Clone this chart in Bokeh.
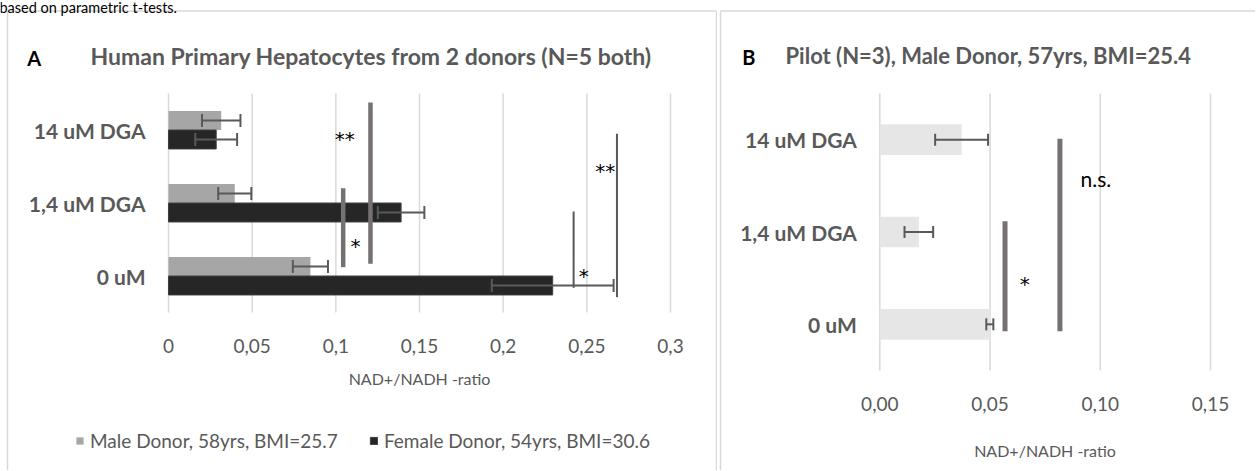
import numpy as np
from bokeh.plotting import figure
from bokeh.models import (ColumnDataSource, Whisker, FixedTicker, CustomJSTickFormatter,
                          Legend, LegendItem, Label, Range1d, TeeHead)
from bokeh.layouts import row
from bokeh.embed import file_html
from bokeh.resources import INLINE
from bokeh.core.properties import value

# ---------------- data ----------------
categories = ["0 uM", "1,4 uM DGA", "14 uM DGA"]
male_vals = [0.0848, 0.0396, 0.0315]
male_err = [0.0105, 0.0099, 0.0115]
female_vals = [0.2296, 0.1390, 0.0285]
female_err = [0.0364, 0.0139, 0.0125]
pilot_vals = [0.0499, 0.0177, 0.0371]
pilot_err = [0.0016, 0.0065, 0.0120]
ticks_a = [0, 0.05, 0.1, 0.15, 0.2, 0.25, 0.3]
ticks_b = [0, 0.05, 0.1, 0.15]
series_names = ["Male Donor, 58yrs, BMI=25.7", "Female Donor, 54yrs, BMI=30.6"]
axis_title = "NAD+/NADH -ratio"
title_a = "Human Primary Hepatocytes from 2 donors (N=5 both)"
title_b = "Pilot (N=3), Male Donor, 57yrs, BMI=25.4"
note_text = "based on parametric t-tests."

# significance markers: value-axis position and category-axis extent
sig_a_thick_x = [0.1044, 0.1207]
sig_a_thick_from = [0.621, 0.667]
sig_a_thick_to = [1.703, 2.877]
sig_a_thin_x = [0.2421, 0.2680]
sig_a_thin_from = [0.338, 0.210]
sig_a_thin_to = [1.384, 2.448]
sig_a_marks = ["*", "**", "*", "**"]
sig_a_mark_x = [0.1117, 0.1053, 0.2481, 0.2610]
sig_a_mark_y = [0.963, 2.425, 0.552, 1.990]
sig_b_x = [0.0568, 0.0817]
sig_b_from = [0.425, 0.425]
sig_b_to = [1.617, 2.509]
sig_b_star = ["*"]
sig_b_star_x = [0.0658]
sig_b_star_y = [0.982]
sig_b_ns = ["n.s."]
sig_b_ns_x = [0.0980]
sig_b_ns_y = [2.076]

# ---------------- layout constants (pixels) ----------------
FONT = "Lato"
STAR_FONT = "DejaVu Sans"
GRAY = "#595959"
GRID = "#d9d9d9"
H = 470
WA, WB = 717, 538
B_LEFT = WA                       # window x where panel B canvas starts
A_X0, A_XMAX_PX, A_Y0, A_YTOP = 168, 670, 312, 93
B_X0, B_XMAX_PX, B_Y0, B_YTOP = 879.3, 1210, 370, 93

pos = np.arange(len(categories)) + 0.5
overrides = {float(p): c for p, c in zip(pos, categories)}


class Panel:
    def __init__(self, left, width, x0, xmax_px, xmax, y0, ytop):
        self.left = left
        self.kx = (xmax_px - x0) / xmax
        self.x0 = x0 - left
        self.ky = (y0 - ytop) / 3.0
        self.y0 = y0
        self.width = width

    def x(self, wx):
        return (wx - self.left - self.x0) / self.kx

    def y(self, wy):
        return (self.y0 - wy) / self.ky

    def figure(self):
        p = figure(width=self.width, height=H,
                   x_range=Range1d(self.x(self.left), self.x(self.left + self.width)),
                   y_range=Range1d(self.y(H), self.y(0)),
                   output_backend="svg", toolbar_location=None, tools="",
                   min_border=0, min_border_left=0, min_border_right=0,
                   min_border_top=0, min_border_bottom=0)
        p.outline_line_color = None
        p.background_fill_color = "white"
        p.border_fill_color = "white"
        p.grid.visible = False
        return p


def style_axes(p, ticks, fmt_code, label_standoff):
    for ax in (p.xaxis[0], p.yaxis[0]):
        ax.fixed_location = 0
        ax.axis_line_color = None
        ax.major_tick_line_color = None
        ax.minor_tick_line_color = None
        ax.major_tick_out = 0
        ax.major_tick_in = 0
        ax.minor_tick_out = 0
        ax.minor_tick_in = 0
        ax.major_label_text_font = FONT
        ax.major_label_text_color = GRAY
    p.yaxis.bounds = (0, 3)
    p.yaxis.ticker = FixedTicker(ticks=list(pos))
    p.yaxis.major_label_overrides = overrides
    p.yaxis.major_label_text_font_size = "21px"
    p.yaxis.major_label_text_font_style = "bold"
    p.yaxis.major_label_standoff = 23
    p.xaxis.bounds = (ticks[0], ticks[-1])
    p.xaxis.ticker = FixedTicker(ticks=ticks)
    p.xaxis.formatter = CustomJSTickFormatter(code=fmt_code)
    p.xaxis.major_label_text_font_size = "19px"
    p.xaxis.major_label_standoff = 26
    p.xaxis.axis_label = axis_title
    p.xaxis.axis_label_text_font = FONT
    p.xaxis.axis_label_text_font_style = "normal"
    p.xaxis.axis_label_text_font_size = "16px"
    p.xaxis.axis_label_text_color = GRAY
    p.xaxis.axis_label_standoff = label_standoff
    # vertical gridlines limited to the plot area
    p.segment(x0=ticks, y0=[0] * len(ticks), x1=ticks, y1=[3] * len(ticks),
              line_color=GRID, line_width=1.5)


def add_whisker(p, ys, vals, errs, head):
    v = np.array(vals)
    e = np.array(errs)
    src = ColumnDataSource(dict(base=list(ys), lower=list(v - e), upper=list(v + e)))
    w = Whisker(source=src, base="base", lower="lower", upper="upper", dimension="width",
                line_color=GRAY, line_width=2, level="annotation",
                upper_head=TeeHead(size=head, line_color=GRAY, line_width=2),
                lower_head=TeeHead(size=head, line_color=GRAY, line_width=2))
    p.add_layout(w)


def add_text(p, text, x, y, size, color, bold=True, font=FONT):
    p.add_layout(Label(x=x, y=y, text=text, text_font=font, text_font_size=size,
                       text_color=color, text_font_style="bold" if bold else "normal",
                       text_baseline="alphabetic", text_align="left"))


def add_border(p, pan, x_left, x_right, y_top):
    xs0 = [pan.x(x_left), pan.x(x_left)]
    ys0 = [pan.y(y_top), pan.y(y_top)]
    xs1 = [pan.x(x_left), pan.x(x_right)]
    ys1 = [pan.y(H + 5), pan.y(y_top)]
    if x_right < pan.left + pan.width:
        xs0.append(pan.x(x_right)); ys0.append(pan.y(y_top))
        xs1.append(pan.x(x_right)); ys1.append(pan.y(H + 5))
    p.segment(x0=xs0, y0=ys0, x1=xs1, y1=ys1, line_color=GRID, line_width=1.5)


# ---------------- panel A ----------------
PA = Panel(0, WA, A_X0, A_XMAX_PX, 0.3, A_Y0, A_YTOP)
pA = PA.figure()
add_border(pA, PA, 7, 716, 10.5)
style_axes(pA, ticks_a, "return String(+tick.toFixed(2)).replace('.', ',');", 13)

bh = 0.26
male_y = pos + bh / 2
female_y = pos - bh / 2
rm = pA.hbar(y=male_y, left=0, right=male_vals, height=bh, fill_color="#a6a6a6", line_color=None)
rf = pA.hbar(y=female_y, left=0, right=female_vals, height=bh, fill_color="#262626",
             line_color="#404040", line_width=1)
add_whisker(pA, male_y, male_vals, male_err, 13)
add_whisker(pA, female_y, female_vals, female_err, 13)

pA.segment(x0=sig_a_thick_x, y0=sig_a_thick_from, x1=sig_a_thick_x, y1=sig_a_thick_to,
           line_color="#767171", line_width=4.5)
pA.segment(x0=sig_a_thin_x, y0=sig_a_thin_from, x1=sig_a_thin_x, y1=sig_a_thin_to,
           line_color=GRAY, line_width=2)
pA.text(x=sig_a_mark_x, y=sig_a_mark_y, text=sig_a_marks, text_font=value(STAR_FONT),
        text_font_size="20px", text_color="black", text_align="center",
        text_baseline="middle", y_offset=4)

legend = Legend(items=[LegendItem(label=series_names[0], renderers=[rm]),
                       LegendItem(label=series_names[1], renderers=[rf])],
                location=(75, H - 451.5), orientation="horizontal",
                label_text_font=FONT, label_text_font_size="19px", label_text_color=GRAY,
                glyph_width=9, glyph_height=9, label_standoff=6, spacing=31,
                padding=0, margin=0, border_line_color=None, background_fill_alpha=0)
pA.add_layout(legend)

add_text(pA, "A", PA.x(26.7), PA.y(57.3), "20px", "black")
add_text(pA, title_a, PA.x(90), PA.y(55.5), "23px", GRAY)
add_text(pA, note_text, PA.x(-1), PA.y(6.5), "14.5px", "black", bold=False)

# ---------------- panel B ----------------
PB = Panel(B_LEFT, WB, B_X0, B_XMAX_PX, 0.15, B_Y0, B_YTOP)
pB = PB.figure()
add_border(pB, PB, 720, 1300, 10.5)
style_axes(pB, ticks_b, "return tick.toFixed(2).replace('.', ',');", 27)

bhb = 0.333
pB.hbar(y=pos, left=0, right=pilot_vals, height=bhb, fill_color="#e7e6e6", line_color=None)
add_whisker(pB, pos, pilot_vals, pilot_err, 12)
pB.segment(x0=sig_b_x, y0=sig_b_from, x1=sig_b_x, y1=sig_b_to, line_color="#767171", line_width=5)
pB.text(x=sig_b_star_x, y=sig_b_star_y, text=sig_b_star, text_font=value(STAR_FONT),
        text_font_size="20px", text_color="black", text_align="center",
        text_baseline="middle", y_offset=4)
pB.text(x=sig_b_ns_x, y=sig_b_ns_y, text=sig_b_ns, text_font=value(FONT),
        text_font_size="21px", text_color="black", text_align="center",
        text_baseline="middle")

add_text(pB, "B", PB.x(741.7), PB.y(56.7), "20px", "black")
add_text(pB, title_b, PB.x(785), PB.y(54.5), "22px", GRAY)

layout = row(pA, pB, spacing=0)
open("out.html", "w").write(file_html(layout, INLINE))
